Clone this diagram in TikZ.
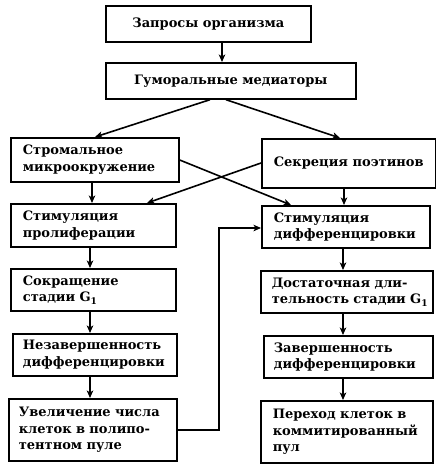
\documentclass[tikz,border=0pt]{standalone}
\usepackage{fontspec}
\setmainfont{DejaVu Serif}
\usetikzlibrary{arrows.meta}
\begin{document}
\begin{tikzpicture}[x=1pt,y=-1pt,
  box/.style={draw, line width=1.7pt, inner xsep=12pt, inner ysep=0pt, anchor=north west,
    font=\bfseries\fontsize{13}{16.5}\selectfont, align=left},
  cbox/.style={box, align=center},
  arr/.style={-{Stealth[length=7.5pt,width=6.5pt,inset=2pt]}, line width=1.6pt}]
\useasboundingbox (0,0) rectangle (436,472);
\node[cbox, minimum width=205pt, minimum height=36pt] (b1) at (105,5) {Запросы организма};
\node[cbox, minimum width=250pt, minimum height=36pt] (b2) at (105,62) {Гуморальные медиаторы};
\node[box, minimum width=168pt, text width=144pt, minimum height=44pt] (b3) at (10,137) {\mbox{Стромальное}\\\mbox{микроокружение}};
\node[cbox, minimum width=168pt, minimum height=49pt] (b4) at (261,138) {Секреция поэтинов};
\node[box, minimum width=165pt, text width=141pt, minimum height=43pt] (b5) at (10,203) {\mbox{Стимуляция}\\\mbox{пролиферации}};
\node[box, minimum width=168pt, text width=144pt, minimum height=42pt] (b6) at (261,205) {\mbox{Стимуляция}\\\mbox{дифференцировки}};
\node[box, minimum width=165pt, text width=141pt, minimum height=42pt] (b7) at (10,268) {\mbox{Сокращение}\\\mbox{стадии G\textsubscript{1}}};
\node[box, inner xsep=10pt, minimum width=164pt, text width=144pt, minimum height=42pt] (b8) at (12,333) {\mbox{Незавершенность}\\\mbox{дифференцировки}};
\node[box, inner xsep=10pt, minimum width=168pt, text width=148pt, minimum height=62pt] (b9) at (8,398) {\mbox{Увеличение числа}\\\mbox{клеток в полипо-}\\\mbox{тентном пуле}};
\node[box, inner xsep=11pt, minimum width=172pt, text width=150pt, minimum height=42pt] (b10) at (260,270) {\mbox{Достаточная дли-}\\\mbox{тельность стадии G\textsubscript{1}}};
\node[box, inner xsep=10pt, minimum width=169pt, text width=149pt, minimum height=42pt] (b11) at (263,335) {\mbox{Завершенность}\\\mbox{дифференцировки}};
\node[box, minimum width=172pt, text width=148pt, minimum height=62pt] (b12) at (260,400) {\mbox{Переход клеток в}\\\mbox{коммитированный}\\\mbox{пул}};
\coordinate (fb1) at (219,430);
\coordinate (fb2) at (219,228);
\draw[arr] (b1.south -| 222,0) -- (b2.north -| 222,0);
\draw[arr] (b2.south -| 210,0) -- (b3.north -| 95,0);
\draw[arr] (b2.south -| 226,0) -- (b4.north -| 340,0);
\draw[arr] (b3.south -| 92,0) -- (b5.north -| 92,0);
\draw[arr] (b4.south -| 344,0) -- (b6.north -| 344,0);
\draw[arr] (b3.east |- 0,160) -- (b6.north -| 291,0);
\draw[arr] (b4.west |- 0,163) -- (b5.north -| 147,0);
\draw[arr] (b5.south -| 90,0) -- (b7.north -| 90,0);
\draw[arr] (b7.south -| 90,0) -- (b8.north -| 90,0);
\draw[arr] (b8.south -| 90,0) -- (b9.north -| 90,0);
\draw[arr] (b6.south -| 343,0) -- (b10.north -| 343,0);
\draw[arr] (b10.south -| 343,0) -- (b11.north -| 343,0);
\draw[arr] (b11.south -| 343,0) -- (b12.north -| 343,0);
\draw[arr] (b9.east |- fb1) -- (fb1) -- (fb2) -- (b6.west |- fb2);
\end{tikzpicture}
\end{document}
